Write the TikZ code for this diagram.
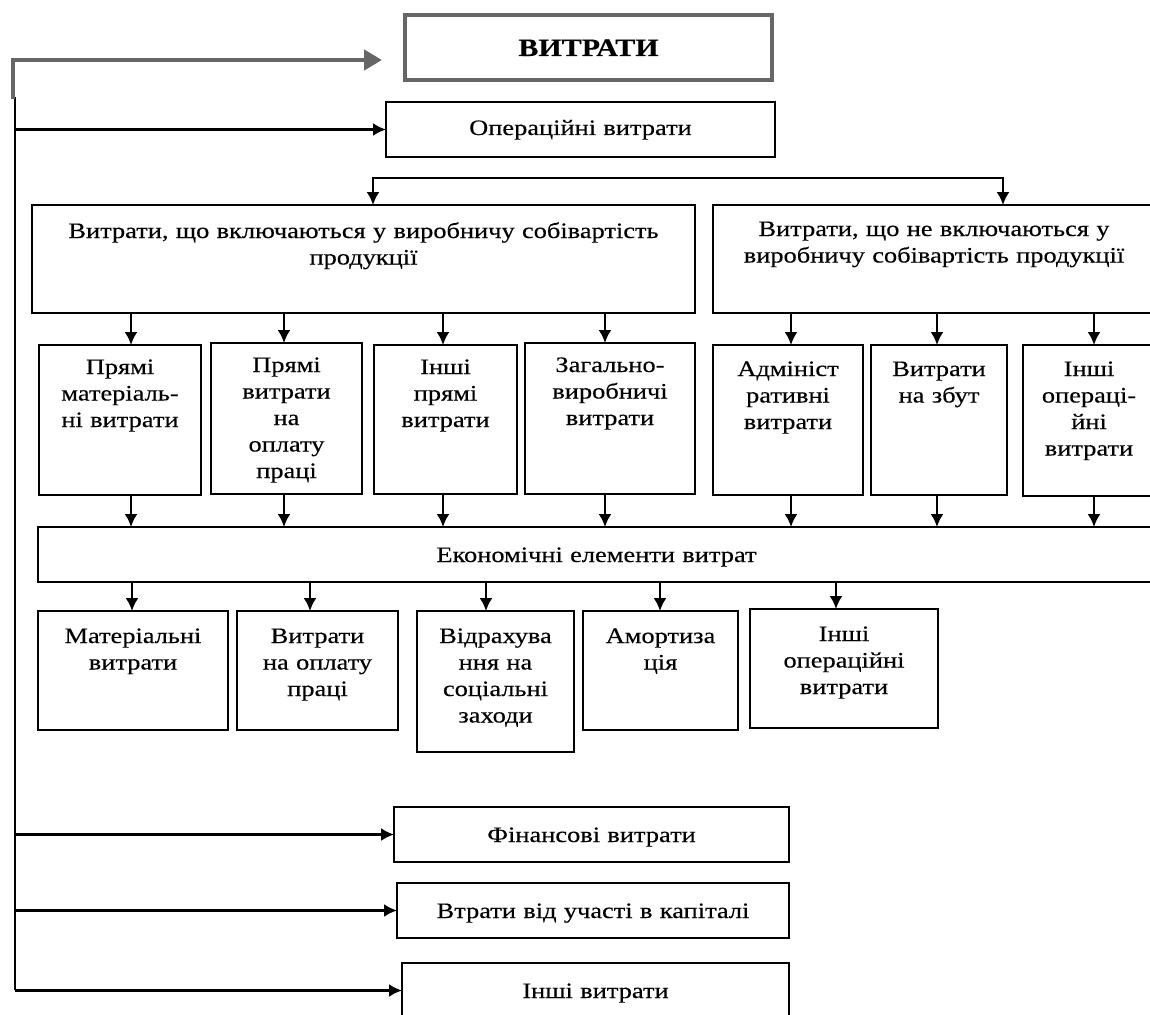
\documentclass[tikz,border=0pt]{standalone}
\usepackage{fontspec}
\setmainfont{Liberation Serif}[FakeStretch=1.2, FakeBold=0.3]
\usetikzlibrary{arrows.meta}

\tikzset{
  cell/.style={draw, line width=2.6pt, outer sep=0pt, inner sep=5pt,
    anchor=north west, align=center, font=\fontsize{22}{26.5}\selectfont},
  link/.style={line width=2.2pt, -{Latex[length=13pt,width=13pt]}},
  greylink/.style={draw=black!60, line width=4.5pt,
    -{Triangle[length=18pt,width=20pt]}}
}

% box: [options]{name}{left}{top}{right}{bottom}{first baseline}{text}
\newcommand{\costbox}[8][]{%
  \pgfmathsetmacro{\cbw}{#5-#3-10}%
  \pgfmathsetmacro{\cbh}{#7-5}%
  \pgfmathsetmacro{\cbd}{#6-#4-10-\cbh}%
  \node[cell, text width=\cbw pt, text height=\cbh pt, text depth=\cbd pt, #1]
    (#2) at (#3,#4) {#8};}

\begin{document}
\begin{tikzpicture}[x=1pt,y=-1pt]
\useasboundingbox (0,0) rectangle (1150,1014);

% top level
\costbox[line width=4pt, draw=black!60, font=\fontsize{25}{30}\selectfont\bfseries]{vytraty}{405}{15}{772}{80}{41}{ВИТРАТИ}
\costbox{oper}{386}{102}{775}{157}{33}{Операційні витрати}

% cost of production or not
\costbox{incl}{32}{205}{695}{313}{33}{Витрати, що включаються у виробничу собівартість\\продукції}
\costbox{excl}{713}{205}{1155}{313}{31}{Витрати, що не включаються у\\виробничу собівартість продукції}

% articles
\costbox{pm}{39}{345}{201}{495}{29}{Прямі\\матеріаль-\\ні витрати}
\costbox{pw}{211}{343}{362}{494}{29}{Прямі\\витрати\\на\\оплату\\праці}
\costbox{ip}{374}{345}{517}{494}{29}{Інші\\прямі\\витрати}
\costbox{zv}{525}{343}{695}{494}{29}{Загально-\\виробничі\\витрати}
\costbox{adm}{713}{345}{863}{495}{31}{Адмініст\\ративні\\витрати}
\costbox{zbut}{871}{345}{1007}{495}{31}{Витрати\\на збут}
\costbox{inop}{1023}{345}{1155}{496}{31}{Інші\\операці-\\йні\\витрати}

\costbox{ekon}{38}{527}{1155}{582}{35}{Економічні елементи витрат}

% economic elements
\costbox{mat}{38}{611}{228}{730}{32}{Матеріальні\\витрати}
\costbox{opl}{237}{611}{398}{730}{32}{Витрати\\на оплату\\праці}
\costbox{vidr}{417}{611}{574}{752}{32}{Відрахува\\ння на\\соціальні\\заходи}
\costbox{amort}{583}{611}{738}{730}{32}{Амортиза\\ція}
\costbox{inshi}{750}{609}{938}{728}{32}{Інші\\операційні\\витрати}

% other kinds
\costbox{fin}{394}{807}{789}{862}{35}{Фінансові витрати}
\costbox{uch}{397}{883}{789}{938}{35}{Втрати від участі в капіталі}
\costbox{insv}{402}{963}{789}{1018}{35}{Інші витрати}

% trunk on the left
\coordinate (trunk top) at (15,97);
\coordinate (trunk end) at (15,990);
\coordinate (grey start) at (13,99);
\draw[line width=2.2pt] (trunk top) -- (trunk end);
\draw[greylink, shorten >=23pt] (grey start) |- ([yshift=-12.5pt]vytraty.west);
\draw[link] (trunk top |- oper.west) -- (oper.west);
\draw[link] (trunk top |- fin.west) -- (fin.west);
\draw[link] (trunk top |- uch.west) -- (uch.west);
\draw[link] (trunk top |- insv.west) -- (insv.west);

% split
\draw[link, {Latex[length=13pt,width=13pt]}-{Latex[length=13pt,width=13pt]}]
  (373,0 |- incl.north) -- (373,178) -- (1003,178) -- (1003,0 |- excl.north);

\foreach \x/\a/\b in {131/incl/pm, 284/incl/pw, 443/incl/ip, 605/incl/zv,
  791/excl/adm, 937/excl/zbut, 1094/excl/inop}
{
  \draw[link] (\x,0 |- \a.south) -- (\x,0 |- \b.north);
  \draw[link] (\x,0 |- \b.south) -- (\x,0 |- ekon.north);
}

\foreach \x/\b in {132/mat, 310/opl, 486/vidr, 660/amort, 836/inshi}
  \draw[link] (\x,0 |- ekon.south) -- (\x,0 |- \b.north);

\end{tikzpicture}
\end{document}
